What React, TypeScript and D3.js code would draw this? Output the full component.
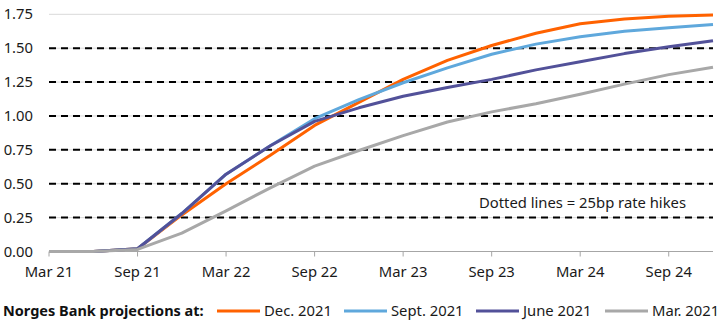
import React from "react";
import * as d3 from "d3";

const quarters = ["Mar 21","Jun 21","Sep 21","Dec 21","Mar 22","Jun 22","Sep 22","Dec 22","Mar 23","Jun 23","Sep 23","Dec 23","Mar 24","Jun 24","Sep 24","Dec 24"];
const tickLabels = ["Mar 21","Sep 21","Mar 22","Sep 22","Mar 23","Sep 23","Mar 24","Sep 24"];
const yTicks = [0, 0.25, 0.5, 0.75, 1.0, 1.25, 1.5, 1.75];
const hikeLines = [0.25, 0.5, 0.75, 1.0, 1.25, 1.5];

const dec2021 = [0, 0, 0.02, 0.27, 0.50, 0.71, 0.93, 1.10, 1.27, 1.41, 1.52, 1.61, 1.68, 1.715, 1.735, 1.745];
const sept2021 = [0, 0, 0.02, 0.28, 0.57, 0.78, 0.98, 1.12, 1.245, 1.355, 1.455, 1.53, 1.585, 1.625, 1.65, 1.675];
const june2021 = [0, 0, 0.02, 0.28, 0.57, 0.78, 0.96, 1.06, 1.145, 1.21, 1.27, 1.34, 1.40, 1.46, 1.51, 1.555];
const mar2021 = [0, 0, 0.015, 0.135, 0.30, 0.47, 0.63, 0.745, 0.855, 0.955, 1.03, 1.09, 1.16, 1.235, 1.305, 1.36];

const seriesNames = ["Dec. 2021", "Sept. 2021", "June 2021", "Mar. 2021"];
const seriesData = [dec2021, sept2021, june2021, mar2021];
const colors = ["#ff6200", "#5fa8dc", "#525199", "#a8a8a8"];

const FONT = "'Noto Sans', sans-serif";

export default function App() {
  const x = d3.scaleLinear().domain([0, quarters.length - 1]).range([49, 713]);
  const y = d3.scaleLinear().domain([0, 1.75]).range([251.5, 14.3]);
  const line = d3.line<number>().x((_, i) => x(i)).y(d => y(d));

  const drawOrder = [0, 1, 2, 3];
  const legendLines = [217, 344, 476, 605];

  return (
    <svg width={726} height={328} style={{ position: "absolute", left: 0, top: 0, background: "#fff" }} fontFamily={FONT}>
      {yTicks.map(t => (
        <line key={"g" + t} x1={49} x2={713} y1={y(t)} y2={y(t)} stroke="#d9d9d9" strokeWidth={1} />
      ))}
      {hikeLines.map(t => (
        <line key={"h" + t} x1={49} x2={713} y1={y(t)} y2={y(t)} stroke="#000" strokeWidth={2} strokeDasharray="7,5" />
      ))}
      {yTicks.map(t => (
        <text key={"yl" + t} x={33} y={y(t)} dy="0.35em" textAnchor="end" fontSize={14.8} fill="#1a1a1a">{t.toFixed(2)}</text>
      ))}
      <line x1={49} x2={713} y1={y(0)} y2={y(0)} stroke="#a6a6a6" strokeWidth={1} />
      {tickLabels.map((lab, i) => (
        <g key={lab}>
          <line x1={x(i * 2)} x2={x(i * 2)} y1={y(0)} y2={y(0) + 5} stroke="#a6a6a6" strokeWidth={1} />
          <text x={x(i * 2)} y={277} textAnchor="middle" fontSize={14.8} fill="#1a1a1a">{lab}</text>
        </g>
      ))}
      <text x={479} y={208} fontSize={14.8} fill="#1a1a1a">Dotted lines = 25bp rate hikes</text>
      {drawOrder.map(k => (
        <path key={"s" + k} d={line(seriesData[k]) || ""} fill="none" stroke={colors[k]} strokeWidth={3} strokeLinejoin="round" />
      ))}
      <text x={3} y={316} fontSize={14.5} fontWeight="bold" fill="#111">Norges Bank projections at:</text>
      {seriesNames.map((n, k) => (
        <g key={n}>
          <line x1={legendLines[k]} x2={legendLines[k] + 43} y1={311} y2={311} stroke={colors[k]} strokeWidth={3} />
          <text x={legendLines[k] + 47} y={316} fontSize={14.8} fill="#1a1a1a">{n}</text>
        </g>
      ))}
    </svg>
  );
}
